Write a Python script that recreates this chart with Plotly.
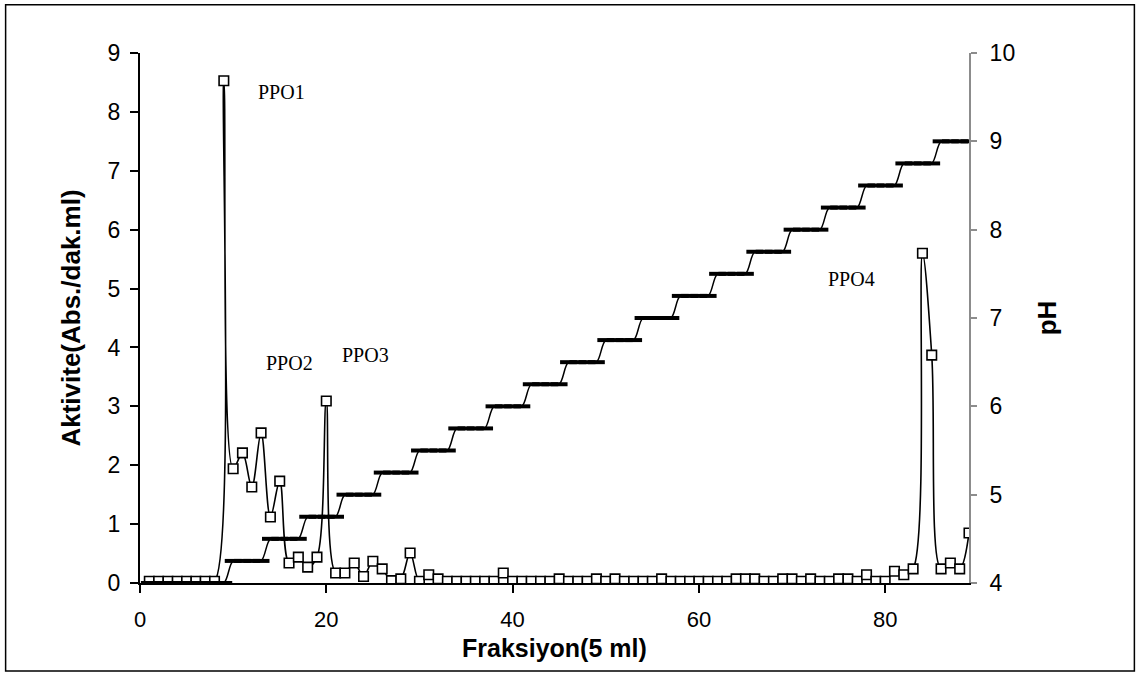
import plotly.graph_objects as go

# Fraction numbers (5 ml each)
fractions = list(range(1, 90))

# Activity (Abs./dak.ml) per fraction
activity = [
    0.03, 0.03, 0.03, 0.03, 0.03, 0.03, 0.03, 0.03, 8.53, 1.94,   # 1-10
    2.21, 1.63, 2.55, 1.12, 1.73, 0.34, 0.44, 0.27, 0.44, 3.09,   # 11-20
    0.17, 0.17, 0.34, 0.11, 0.37, 0.24, 0.04, 0.07, 0.51, 0.03,   # 21-30
    0.14, 0.07, 0.03, 0.03, 0.03, 0.03, 0.03, 0.03, 0.17, 0.03,   # 31-40
    0.03, 0.03, 0.03, 0.03, 0.07, 0.03, 0.03, 0.03, 0.07, 0.03,   # 41-50
    0.07, 0.03, 0.03, 0.03, 0.03, 0.07, 0.03, 0.03, 0.03, 0.03,   # 51-60
    0.03, 0.03, 0.03, 0.07, 0.07, 0.07, 0.03, 0.03, 0.07, 0.07,   # 61-70
    0.03, 0.07, 0.03, 0.03, 0.07, 0.07, 0.03, 0.14, 0.03, 0.03,   # 71-80
    0.20, 0.14, 0.24, 5.60, 3.87, 0.24, 0.34, 0.24, 0.85,         # 81-89
]

# pH gradient per fraction
ph = [
    4.00, 4.00, 4.00, 4.00, 4.00, 4.00, 4.00, 4.00, 4.00,
    4.25, 4.25, 4.25, 4.25,
    4.50, 4.50, 4.50, 4.50,
    4.75, 4.75, 4.75, 4.75,
    5.00, 5.00, 5.00, 5.00,
    5.25, 5.25, 5.25, 5.25,
    5.50, 5.50, 5.50, 5.50,
    5.75, 5.75, 5.75, 5.75,
    6.00, 6.00, 6.00, 6.00,
    6.25, 6.25, 6.25, 6.25,
    6.50, 6.50, 6.50, 6.50,
    6.75, 6.75, 6.75, 6.75,
    7.00, 7.00, 7.00, 7.00,
    7.25, 7.25, 7.25, 7.25,
    7.50, 7.50, 7.50, 7.50,
    7.75, 7.75, 7.75, 7.75,
    8.00, 8.00, 8.00, 8.00,
    8.25, 8.25, 8.25, 8.25,
    8.50, 8.50, 8.50, 8.50,
    8.75, 8.75, 8.75, 8.75,
    9.00, 9.00, 9.00, 9.00,
]

peak_labels = ["PPO1", "PPO2", "PPO3", "PPO4"]
peak_label_x = [15.2, 16.0, 24.2, 76.4]
peak_label_y = [8.34, 3.73, 3.88, 5.17]

x_ticks = [0, 20, 40, 60, 80]
y_ticks = [0, 1, 2, 3, 4, 5, 6, 7, 8, 9]
ph_ticks = [4, 5, 6, 7, 8, 9, 10]

SANS = "Arial, 'Liberation Sans', sans-serif"
SERIF = "'Times New Roman', 'Liberation Serif', serif"

fig = go.Figure()

fig.add_trace(go.Scatter(
    x=fractions, y=ph, yaxis="y2", mode="lines+markers",
    line=dict(color="black", width=1.5, shape="spline", smoothing=1.0),
    marker=dict(symbol="line-ew", size=12, line=dict(color="black", width=4)),
    showlegend=False, hoverinfo="x+y",
))

fig.add_trace(go.Scatter(
    x=fractions, y=activity, mode="lines+markers",
    line=dict(color="black", width=1.6, shape="spline", smoothing=1.0),
    marker=dict(symbol="square", size=9.5, color="white", line=dict(color="black", width=1.6)),
    showlegend=False, hoverinfo="x+y",
))

for t, xx, yy in zip(peak_labels, peak_label_x, peak_label_y):
    fig.add_annotation(x=xx, y=yy, xref="x", yref="y", text=t, showarrow=False,
                       font=dict(family=SERIF, size=20, color="black"))

# x-axis title placed just under the tick labels
fig.add_annotation(x=0.5, y=-0.1235, xref="paper", yref="paper",
                   text="<b>Fraksiyon(5 ml)</b>", showarrow=False,
                   xanchor="center", yanchor="middle",
                   font=dict(family=SANS, size=25, color="black"))

# outer frame
fig.add_shape(type="rect", xref="paper", yref="paper",
              x0=-0.1621, x1=1.1995, y0=-0.166, y1=1.0911,
              line=dict(color="black", width=1.5), fillcolor="rgba(0,0,0,0)")

fig.update_layout(
    width=1140, height=673,
    margin=dict(l=140, r=170.5, t=53.3, b=89.5),
    paper_bgcolor="white", plot_bgcolor="white",
    font=dict(family=SANS, size=23, color="black"),
    xaxis=dict(
        range=[0, 89], tickvals=x_ticks, showgrid=False, zeroline=False,
        showline=True, linecolor="black", linewidth=2,
        ticks="outside", ticklen=8, tickwidth=1.5, tickcolor="black",
        ticklabelstandoff=8,
        tickfont=dict(family=SANS, size=22, color="black"),
    ),
    yaxis=dict(
        range=[0, 9], tickvals=y_ticks, showgrid=False, zeroline=False,
        showline=True, linecolor="black", linewidth=2,
        ticks="outside", ticklen=8, tickwidth=1.5, tickcolor="black",
        ticklabelstandoff=5,
        tickfont=dict(family=SANS, size=23, color="black"),
        title=dict(text="<b>Aktivite(Abs./dak.ml)</b>", font=dict(family=SANS, size=26, color="black"), standoff=20),
    ),
    yaxis2=dict(
        range=[4, 10], tickvals=ph_ticks, overlaying="y", side="right",
        showgrid=False, zeroline=False,
        showline=True, linecolor="#8c8c8c", linewidth=2,
        ticks="outside", ticklen=6, tickwidth=1.5, tickcolor="#8c8c8c",
        ticklabelstandoff=8,
        tickfont=dict(family=SANS, size=23, color="black"),
        title=dict(text="<b>pH</b>", font=dict(family=SANS, size=26, color="black"), standoff=24),
    ),
)

fig.write_html("out.html")
